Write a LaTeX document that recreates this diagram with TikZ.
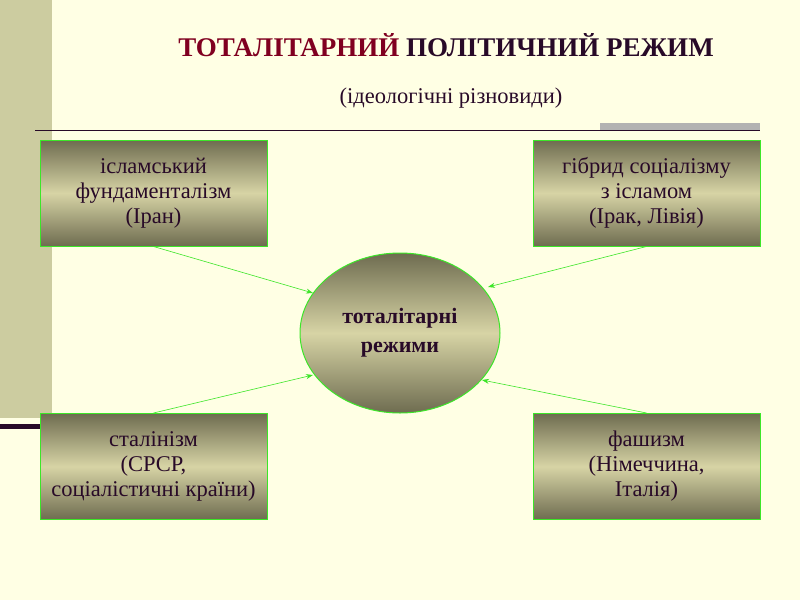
\documentclass[tikz,border=0pt]{standalone}
\usepackage{fontspec}
\setmainfont{Liberation Serif}
\usetikzlibrary{shapes.geometric,arrows.meta}
\definecolor{bg}{RGB}{255,255,228}
\definecolor{strip}{RGB}{204,204,160}
\definecolor{olive}{RGB}{110,108,80}
\definecolor{lite}{RGB}{215,212,165}
\definecolor{dred}{RGB}{128,0,32}
\definecolor{txt}{RGB}{40,10,40}
\definecolor{grn}{RGB}{60,230,40}
\tikzset{
 box/.style={draw=grn,line width=1pt,top color=olive,bottom color=olive,middle color=lite,minimum width=227pt,minimum height=106pt,align=center,font=\fontsize{22.5pt}{25pt}\selectfont,text=txt,inner sep=0pt},
 conn/.style={draw=grn,line width=0.6pt,-{Stealth[length=7pt,width=5pt]}}
}
\begin{document}
\begin{tikzpicture}[x=1pt,y=-1pt]
\fill[bg] (0,0) rectangle (800,600);
\fill[strip] (0,0) rectangle (52,418);
\fill[txt] (0,424) rectangle (40,429);
\fill[black!30] (600,123) rectangle (760,130);
\draw[txt,line width=1.2pt] (35,130.5) -- (760,130.5);
\node[font=\bfseries\fontsize{27pt}{32pt}\selectfont,anchor=center] (title) at (446,45) {\textcolor{dred}{ТОТАЛІТАРНИЙ} \textcolor{txt}{ПОЛІТИЧНИЙ РЕЖИМ}};
\node[font=\fontsize{22.5pt}{27pt}\selectfont,text=txt] (sub) at (451,98) {(ідеологічні різновиди)};
\node[box] (b1) at (153.5,193) {ісламський\\фундаменталізм\\(Іран)};
\node[box] (b2) at (646.5,193) {гібрид соціалізму\\з ісламом\\(Ірак, Лівія)};
\node[box] (b3) at (153.5,466.5) {сталінізм\\(СРСР,\\соціалістичні країни)};
\node[box] (b4) at (646.5,466.5) {фашизм\\(Німеччина,\\Італія)};
\node[ellipse,draw=grn,line width=1pt,top color=olive,bottom color=olive,middle color=lite,minimum width=200pt,minimum height=160pt,inner sep=0pt,align=center,text=txt,font=\bfseries\fontsize{22pt}{29pt}\selectfont] (c) at (400,333) {тоталітарні\\режими};
\coordinate (a1) at (313,293);
\coordinate (a2) at (488,287);
\coordinate (a3) at (313,375);
\coordinate (a4) at (482,380);
\draw[conn] (b1.south) -- (a1);
\draw[conn] (b2.south) -- (a2);
\draw[conn] (b3.north) -- (a3);
\draw[conn] (b4.north) -- (a4);
\end{tikzpicture}
\end{document}
